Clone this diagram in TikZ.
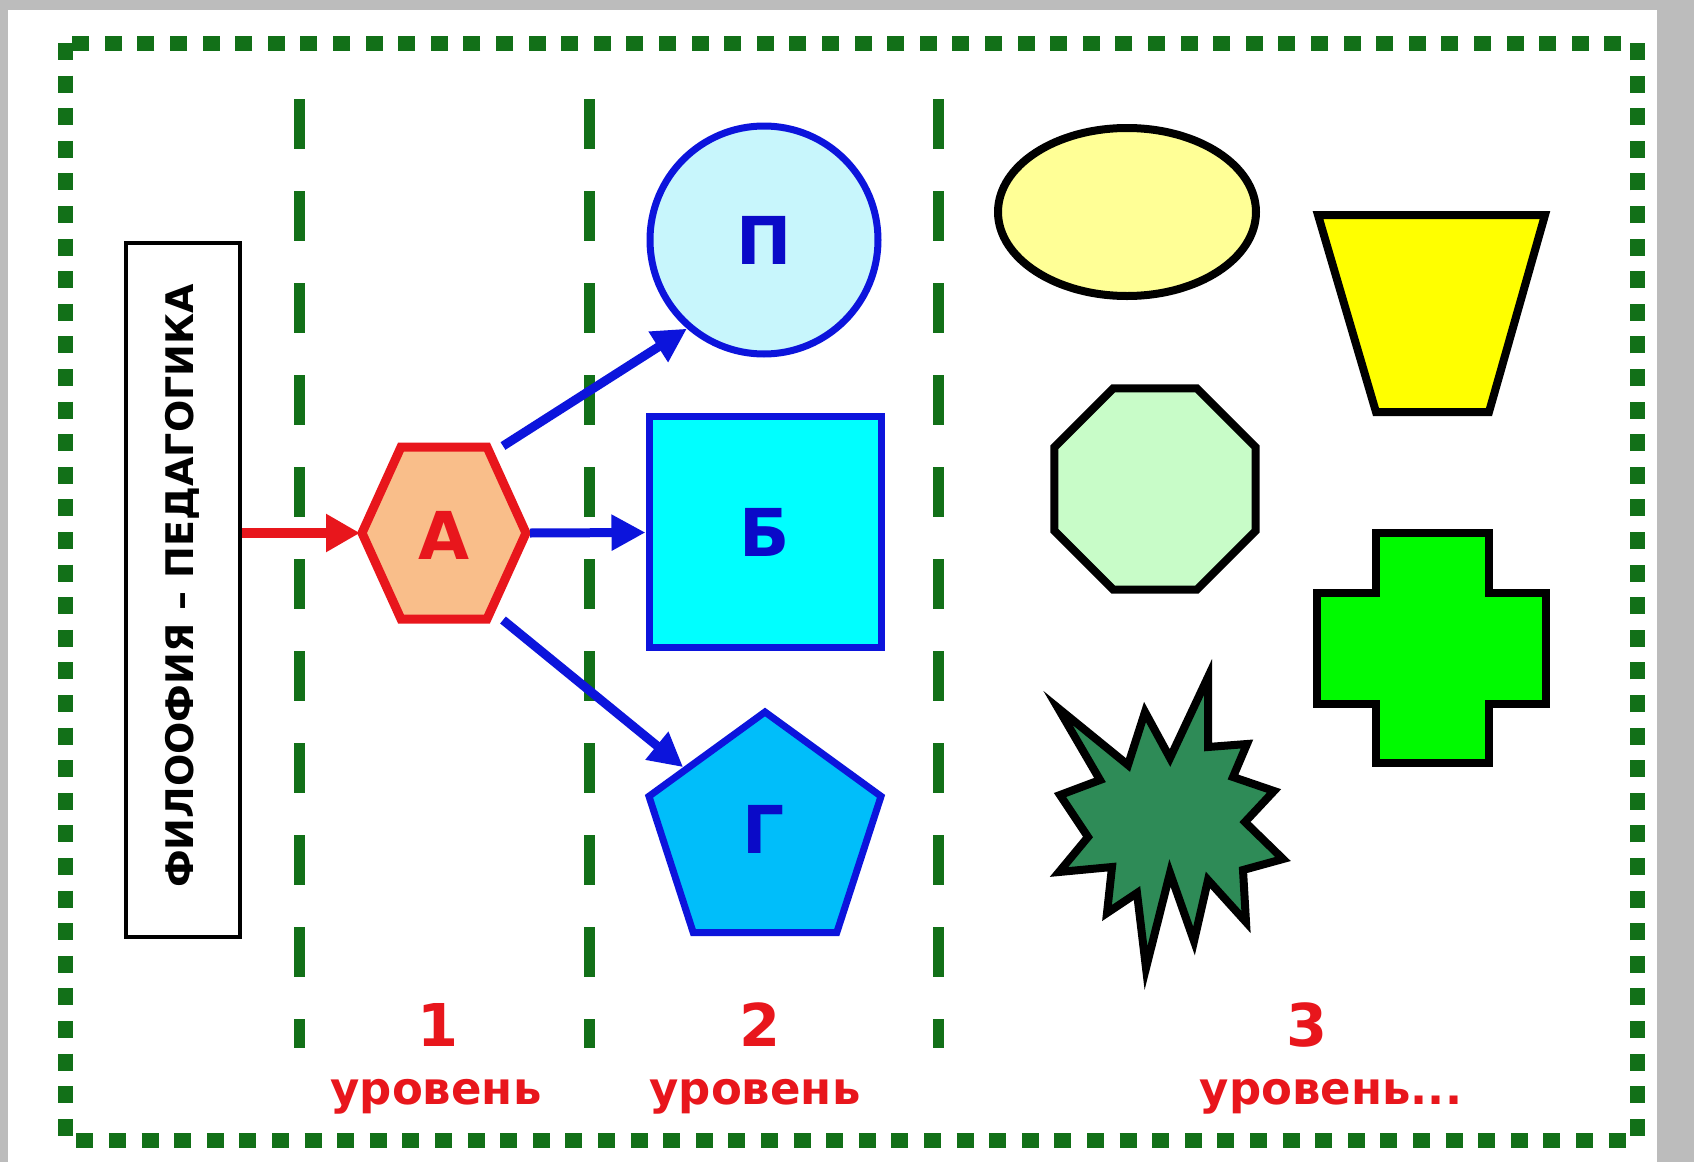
\documentclass[tikz,border=0pt]{standalone}
\usepackage{fontspec}
\setmainfont{DejaVu Sans}
\usetikzlibrary{arrows.meta,shapes.geometric,calc}
\definecolor{dgreen}{RGB}{18,112,24}
\definecolor{bggray}{RGB}{188,188,188}
\definecolor{lred}{RGB}{232,22,28}
\definecolor{peach}{RGB}{249,190,138}
\definecolor{lblue}{RGB}{12,20,220}
\definecolor{txtblue}{RGB}{10,10,200}
\definecolor{pcyan}{RGB}{200,246,252}
\definecolor{bcyan}{RGB}{0,255,255}
\definecolor{gblue}{RGB}{0,190,250}
\definecolor{pyellow}{RGB}{255,255,150}
\definecolor{yyellow}{RGB}{255,255,0}
\definecolor{pgreen}{RGB}{200,252,200}
\definecolor{bgreen}{RGB}{0,250,0}
\definecolor{sgreen}{RGB}{46,139,87}
\tikzset{
  borderdots/.style={dgreen, line width=7.5pt, dash pattern=on 8.5pt off 7.8pt},
  levelline/.style={dgreen, line width=5.5pt, dash pattern=on 25pt off 21pt},
  bluebox/.style={draw=lblue, line width=3.5pt, inner sep=0pt, font=\bfseries\fontsize{33}{33}\selectfont, text=txtblue},
  blackshape/.style={draw=black, line width=4pt, line join=miter},
  redarrow/.style={draw=lred, line width=5pt, -{Triangle[length=17pt,width=18pt]}},
  bluearrow/.style={draw=lblue, line width=4.5pt, -{Triangle[length=17pt,width=17pt]}},
  levelnum/.style={text=lred, font=\bfseries\fontsize{29.5}{29.5}\selectfont, anchor=base, inner sep=0pt},
  levelword/.style={text=lred, font=\bfseries\fontsize{22.5}{22.5}\selectfont, anchor=base, inner sep=0pt}
}
\begin{document}
\begin{tikzpicture}[x=0.5pt,y=-0.5pt]
\useasboundingbox (0,0) rectangle (1694,1162);
\fill[bggray] (0,0) rectangle (1694,1162);
\fill[white] (8,10) rectangle (1657,1162);
% outer dotted frame
\draw[borderdots] (65,43) rectangle (1637,1140);
% level separators
\foreach \x in {299,589,938} \draw[levelline] (\x,99) -- (\x,1048);
% philosophy box
\node[draw=black, line width=2pt, fill=white, minimum width=57pt, minimum height=347pt, inner sep=0pt] (box) at (183,590) {};
\node[rotate=90, font=\bfseries\fontsize{19}{19}\selectfont, inner sep=0pt] (boxtext) at (182,586) {ФИЛООФИЯ – ПЕДАГОГИКА};
% hexagon A
\draw[draw=lred, fill=peach, line width=4.5pt, line join=miter] (362,533) -- (401,447) -- (487,447) -- (526,533) -- (487,619) -- (401,619) -- cycle;
\coordinate (Aw) at (360,533);
\coordinate (Ane) at (503,446);
\coordinate (Ae) at (530,533);
\coordinate (Ase) at (503,620);
\node[text=lred, font=\bfseries\fontsize{33}{33}\selectfont, inner sep=0pt] (A) at (444,535) {А};
% level 2 shapes
\node[bluebox, circle, fill=pcyan, minimum size=114pt] (P) at (764,240) {П};
\node[bluebox, rectangle, fill=bcyan, minimum width=116pt, minimum height=115.5pt] (B) at (765,532) {Б};
\node[bluebox, regular polygon, regular polygon sides=5, fill=gblue, minimum size=122pt] (G) at (765,834) {};
\node[text=txtblue, font=\bfseries\fontsize{33}{33}\selectfont, inner sep=0pt] (Gt) at (764,829) {Г};
% arrows
\draw[redarrow] (box.east |- Aw) -- (Aw);
\draw[bluearrow] (Ane) -- (P.229);
\draw[bluearrow] (Ae) -- (B);
\draw[bluearrow] (Ase) -- (G);
% level 3 shapes
\draw[blackshape, fill=pyellow] (1127,212) ellipse [x radius=129, y radius=84];
\draw[blackshape, fill=yyellow] (1318,215) -- (1545,215) -- (1489,412) -- (1376,412) -- cycle;
\node[blackshape, regular polygon, regular polygon sides=8, fill=pgreen, minimum size=109pt] (oct) at (1155,489) {};
\draw[blackshape, fill=bgreen] (1376,533) -- (1489,533) -- (1489,593) -- (1546,593) -- (1546,704) -- (1489,704) -- (1489,763) -- (1376,763) -- (1376,704) -- (1317,704) -- (1317,593) -- (1376,593) -- cycle;
\draw[blackshape, fill=sgreen, miter limit=25] (1058,708) -- (1128,765) -- (1145,712) -- (1170,758) -- (1208,677) -- (1208,747) -- (1247,744) -- (1233,777) -- (1274,791) -- (1245,822) -- (1283,859) -- (1243,870) -- (1246,922) -- (1208,880) -- (1194,941) -- (1170,873) -- (1146,968) -- (1137,893) -- (1107,913) -- (1112,867) -- (1059,872) -- (1088,837) -- (1060,795) -- (1100,780) -- cycle;
% labels
\node[levelnum] (n1) at (438,1046) {1};
\node[levelword] (w1) at (436,1104) {уровень};
\node[levelnum] (n2) at (760,1046) {2};
\node[levelword] (w2) at (755,1104) {уровень};
\node[levelnum] (n3) at (1307,1046) {3};
\node[levelword] (w3) at (1331,1104) {уровень...};
\end{tikzpicture}
\end{document}
